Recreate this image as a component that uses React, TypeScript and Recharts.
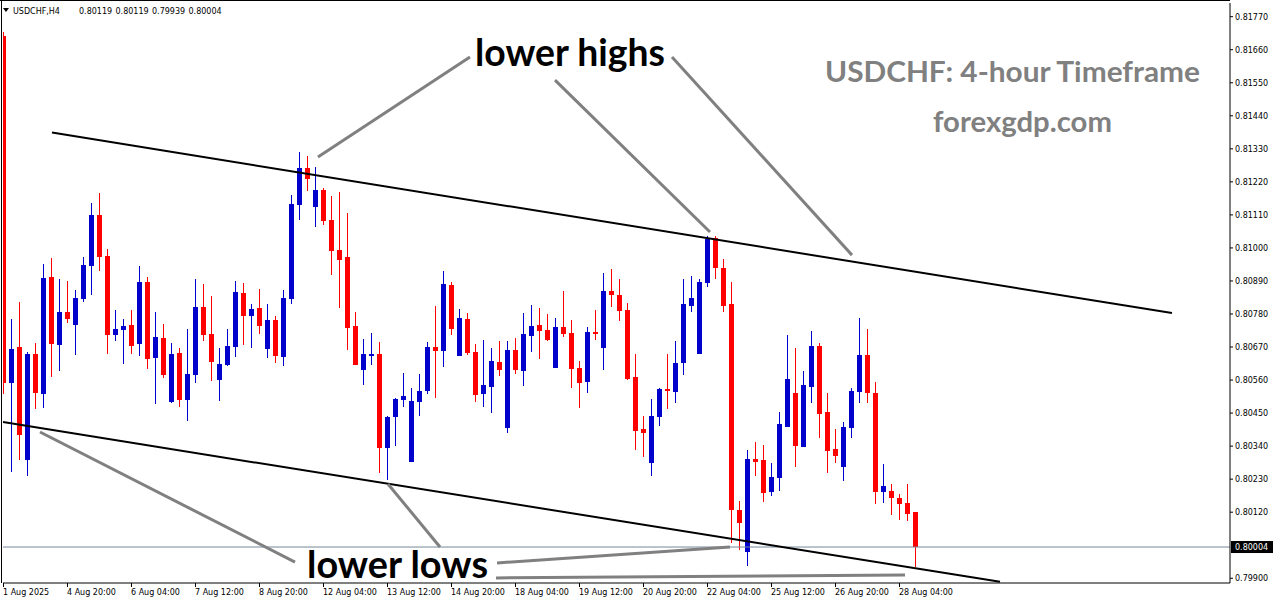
import { ComposedChart, Bar, XAxis, YAxis, ReferenceLine } from 'recharts';

const BULL = '#0000CD';
const BEAR = '#FF0000';
const AXIS_FONT = 'DejaVu Sans';

// USDCHF H4 candles, 1 Aug 12:00 .. 28 Aug 04:00
const OPEN = [
  0.81706, 0.8055, 0.8067, 0.80294, 0.80647, 0.80514, 0.80903, 0.80677, 0.80787, 0.80743,
  0.8083, 0.8094, 0.8111, 0.80973, 0.8071, 0.80727, 0.80743, 0.8068, 0.80887, 0.80633,
  0.807, 0.80487, 0.8065, 0.80494, 0.80577, 0.80803, 0.80713, 0.8056, 0.8061, 0.8067,
  0.8085, 0.80773, 0.808, 0.80663, 0.8076, 0.80637, 0.8083, 0.81143, 0.81266, 0.81136,
  0.81193, 0.81093, 0.80993, 0.8097, 0.8074, 0.80593, 0.8064, 0.80647, 0.80334, 0.80437,
  0.80494, 0.80287, 0.80487, 0.80524, 0.8067, 0.80657, 0.80877, 0.8064, 0.80763, 0.80653,
  0.80514, 0.80537, 0.8062, 0.804, 0.8066, 0.8059, 0.80707, 0.80743, 0.80727, 0.806,
  0.80737, 0.80717, 0.806, 0.80554, 0.8072, 0.80667, 0.80857, 0.80843, 0.80793, 0.8057,
  0.80397, 0.80284, 0.80437, 0.8053, 0.8052, 0.80617, 0.80807, 0.80647, 0.80883, 0.81033,
  0.80933, 0.80813, 0.80127, 0.79987, 0.80297, 0.80294, 0.80187, 0.80234, 0.80404, 0.80517,
  0.80337, 0.80537, 0.80673, 0.80454, 0.8033, 0.8027, 0.804, 0.8052, 0.80643, 0.80517,
  0.80187, 0.80191, 0.80167, 0.80151, 0.80119,
];
const HIGH = [
  0.81719, 0.80763, 0.8082, 0.80653, 0.80683, 0.80946, 0.80966, 0.80897, 0.8089, 0.8086,
  0.8097, 0.8115, 0.81183, 0.80996, 0.80793, 0.80763, 0.80793, 0.8094, 0.80903, 0.80787,
  0.80747, 0.80683, 0.80667, 0.8073, 0.80897, 0.8088, 0.8084, 0.80667, 0.8073, 0.8089,
  0.80883, 0.80813, 0.80863, 0.80813, 0.80773, 0.8086, 0.81176, 0.81319, 0.81306, 0.8127,
  0.812, 0.81173, 0.81186, 0.81116, 0.80787, 0.80697, 0.80717, 0.80687, 0.8044, 0.805,
  0.80583, 0.80534, 0.8058, 0.80687, 0.80807, 0.80923, 0.80887, 0.80797, 0.80783, 0.8068,
  0.80693, 0.80667, 0.8069, 0.8069, 0.807, 0.80783, 0.8081, 0.808, 0.8078, 0.80767,
  0.80857, 0.8076, 0.80623, 0.80737, 0.80793, 0.80917, 0.8093, 0.80897, 0.80817, 0.80647,
  0.8044, 0.80497, 0.80534, 0.80647, 0.8069, 0.80897, 0.80906, 0.80897, 0.8104, 0.8104,
  0.80963, 0.80887, 0.80157, 0.80327, 0.80354, 0.80344, 0.80284, 0.80454, 0.8071, 0.80667,
  0.8059, 0.80723, 0.80683, 0.80517, 0.80397, 0.8042, 0.80534, 0.80767, 0.8073, 0.80554,
  0.8028, 0.80214, 0.80181, 0.80214, 0.80119,
];
const LOW = [
  0.80514, 0.80254, 0.80294, 0.8024, 0.80464, 0.80467, 0.8057, 0.8059, 0.8075, 0.80643,
  0.8082, 0.80843, 0.80923, 0.80647, 0.8069, 0.80613, 0.80647, 0.8064, 0.80597, 0.8048,
  0.80567, 0.80484, 0.8047, 0.80424, 0.8055, 0.8069, 0.80557, 0.8049, 0.80607, 0.80637,
  0.80677, 0.80667, 0.80713, 0.80633, 0.80617, 0.80607, 0.80813, 0.81093, 0.8119, 0.8107,
  0.81076, 0.8091, 0.808, 0.8066, 0.8061, 0.80544, 0.8061, 0.8025, 0.80227, 0.8034,
  0.8047, 0.80287, 0.8044, 0.80514, 0.805, 0.80603, 0.8071, 0.8064, 0.80643, 0.80487,
  0.8047, 0.8045, 0.80574, 0.80384, 0.8058, 0.8054, 0.80653, 0.8063, 0.8069, 0.806,
  0.80703, 0.80534, 0.80467, 0.80517, 0.80693, 0.80593, 0.80803, 0.80757, 0.8056, 0.80327,
  0.80304, 0.8024, 0.80407, 0.80464, 0.80484, 0.80577, 0.80787, 0.80647, 0.8087, 0.80897,
  0.80787, 0.80017, 0.79994, 0.79941, 0.8024, 0.80154, 0.80174, 0.80191, 0.80404, 0.8027,
  0.80337, 0.80484, 0.80367, 0.8025, 0.80284, 0.80224, 0.80367, 0.80484, 0.80484, 0.80147,
  0.80151, 0.80111, 0.80094, 0.80091, 0.79939,
];
const CLOSE = [
  0.8055, 0.80663, 0.80377, 0.80647, 0.80517, 0.809, 0.8068, 0.80787, 0.80763, 0.80833,
  0.80943, 0.8111, 0.8097, 0.8071, 0.8073, 0.8074, 0.80673, 0.80887, 0.8063, 0.80703,
  0.80577, 0.80647, 0.80494, 0.8058, 0.80803, 0.8071, 0.8062, 0.80613, 0.80673, 0.80853,
  0.80773, 0.80797, 0.8074, 0.8076, 0.8064, 0.80833, 0.81146, 0.81266, 0.8123, 0.81193,
  0.8109, 0.8099, 0.8096, 0.80733, 0.8061, 0.80647, 0.80647, 0.80334, 0.80437, 0.80497,
  0.80507, 0.8049, 0.80524, 0.8067, 0.80657, 0.8088, 0.8073, 0.80767, 0.8065, 0.8051,
  0.80544, 0.80623, 0.80593, 0.8066, 0.80593, 0.80713, 0.8074, 0.80723, 0.80693, 0.80737,
  0.80713, 0.80597, 0.8055, 0.8072, 0.80713, 0.80857, 0.80843, 0.8079, 0.80563, 0.8039,
  0.80384, 0.8044, 0.8053, 0.80524, 0.80617, 0.80813, 0.80833, 0.80887, 0.8103, 0.80933,
  0.80807, 0.80127, 0.80084, 0.80297, 0.80287, 0.80184, 0.80237, 0.80414, 0.80563, 0.8034,
  0.80544, 0.80673, 0.80447, 0.80324, 0.80307, 0.80404, 0.80524, 0.80643, 0.80517, 0.80187,
  0.80207, 0.80167, 0.80147, 0.80114, 0.80004,
];

const X_TICKS = [0, 8, 16, 24, 32, 40, 48, 56, 64, 72, 80, 88, 96, 104, 112];
const X_TICK_LABELS = [
  '1 Aug 2025', '4 Aug 20:00', '6 Aug 04:00', '7 Aug 12:00', '8 Aug 20:00',
  '12 Aug 04:00', '13 Aug 12:00', '14 Aug 20:00', '18 Aug 04:00', '19 Aug 12:00',
  '20 Aug 20:00', '22 Aug 04:00', '25 Aug 12:00', '26 Aug 20:00', '28 Aug 04:00',
];
const Y_TICKS = [
  0.799, 0.8012, 0.8023, 0.8034, 0.8045, 0.8056, 0.8067, 0.8078, 0.8089,
  0.81, 0.8111, 0.8122, 0.8133, 0.8144, 0.8155, 0.8166, 0.8177,
];
const LAST_PRICE = 0.80004;
const HEADER_VALUES = ['0.80119', '0.80119', '0.79939', '0.80004'];

// channel lines: [bar index, price]
const CHANNEL_LINES = [
  [[6.06, 0.81384], [146.06, 0.80783]],
  [[-0.06, 0.8042], [124.56, 0.79888]],
];
// grey pointer lines from the labels
const POINTER_LINES = [
  [[39.31, 0.81303], [58.31, 0.81636]],
  [[68.94, 0.81559], [88.31, 0.81053]],
  [[83.56, 0.81636], [106.06, 0.80976]],
  [[4.56, 0.80387], [36.44, 0.79954]],
  [[48.06, 0.80214], [54.56, 0.80004]],
  [[61.69, 0.79951], [90.81, 0.80004]],
  [[61.56, 0.79901], [112.69, 0.79911]],
];

const data = OPEN.map((open, i) => ({
  i,
  open,
  close: CLOSE[i],
  high: HIGH[i],
  low: LOW[i],
  range: [LOW[i], HIGH[i]],
}));

function Candle(props: any) {
  const { x, y, width, height, payload } = props;
  if (!payload || y == null || height == null) return null;
  const top = Math.min(y, y + height);
  const h = Math.abs(height);
  const { open, close, high, low } = payload;
  const toY = (v: number) => (high === low ? top : top + ((high - v) / (high - low)) * h);
  const color = close >= open ? BULL : BEAR;
  const cx = x + width / 2;
  const bodyTop = toY(Math.max(open, close));
  const bodyBottom = toY(Math.min(open, close));
  return (
    <g>
      <line x1={cx} x2={cx} y1={top} y2={top + h} stroke={color} strokeWidth={1} shapeRendering="crispEdges" />
      <rect
        x={cx - 2.5}
        y={bodyTop}
        width={5}
        height={Math.max(1, bodyBottom - bodyTop)}
        fill={color}
        shapeRendering="crispEdges"
      />
    </g>
  );
}

function XTick(props: any) {
  const { x, y, payload } = props;
  const label = X_TICK_LABELS[X_TICKS.indexOf(payload.value)];
  if (!label) return null;
  return (
    <text x={x - 0.5} y={y} dy={6} textAnchor="start" fontSize={8} fontFamily={AXIS_FONT} fill="#000">
      {label}
    </text>
  );
}

function PriceTag(props: any) {
  const vb = props.viewBox;
  if (!vb) return null;
  const x = vb.x + vb.width + 1;
  return (
    <g>
      <rect x={x} y={vb.y - 6} width={42} height={12} fill="#000" />
      <text x={x + 4} y={vb.y} dy={3} fontSize={8} fontFamily={AXIS_FONT} fill="#fff">
        {LAST_PRICE.toFixed(5)}
      </text>
    </g>
  );
}

export default function App() {
  return (
    <div style={{ position: 'absolute', left: 0, top: 0, width: 1276, height: 604, background: '#fff' }}>
      <ComposedChart
        width={1276}
        height={604}
        data={data}
        margin={{ top: 3, right: 0, left: 3, bottom: 0 }}
      >
        <XAxis
          dataKey="i"
          type="number"
          domain={[-0.0625, 153.3125]}
          allowDataOverflow
          ticks={X_TICKS}
          interval={0}
          height={21}
          tickSize={4}
          tickMargin={2}
          tick={<XTick />}
          axisLine={{ stroke: '#000' }}
          tickLine={{ stroke: '#000' }}
        />
        <YAxis
          orientation="right"
          type="number"
          domain={[0.798842, 0.818156]}
          allowDataOverflow
          ticks={Y_TICKS}
          interval={0}
          width={46}
          tickSize={3}
          tickMargin={2}
          tickFormatter={(v: number) => v.toFixed(5)}
          tick={{ fontSize: 8, fill: '#000', fontFamily: AXIS_FONT }}
          axisLine={{ stroke: '#000' }}
          tickLine={{ stroke: '#000' }}
        />
        <ReferenceLine y={LAST_PRICE} stroke="#778899" strokeWidth={1} label={<PriceTag />} />
        <Bar dataKey="range" barSize={5} shape={<Candle />} isAnimationActive={false} />
        {CHANNEL_LINES.map((seg, k) => (
          <ReferenceLine
            key={'c' + k}
            segment={[{ x: seg[0][0], y: seg[0][1] }, { x: seg[1][0], y: seg[1][1] }]}
            stroke="#000"
            strokeWidth={2}
            ifOverflow="visible"
          />
        ))}
        {POINTER_LINES.map((seg, k) => (
          <ReferenceLine
            key={'p' + k}
            segment={[{ x: seg[0][0], y: seg[0][1] }, { x: seg[1][0], y: seg[1][1] }]}
            stroke="#808080"
            strokeWidth={3}
            ifOverflow="visible"
          />
        ))}
      </ComposedChart>
      <svg
        width={1276}
        height={604}
        style={{ position: 'absolute', left: 0, top: 0, pointerEvents: 'none' }}
      >
        <line x1={0} x2={1230} y1={0.5} y2={0.5} stroke="#000" />
        <line x1={1.5} x2={1.5} y1={0} y2={583} stroke="#000" />
        <polygon points="3,8 9,8 6,12" fill="#000" />
        <text x={13} y={14} fontSize={8} fontFamily={AXIS_FONT} fill="#000">USDCHF,H4</text>
        {HEADER_VALUES.map((v, k) => (
          <text key={k} x={79 + k * 36.5} y={14} fontSize={8} fontFamily={AXIS_FONT} fill="#000">
            {v}
          </text>
        ))}
        <text x={475} y={66} fontSize={38} fontWeight={700} fontFamily="Lato" fill="#000" textLength={190} lengthAdjust="spacingAndGlyphs">
          lower highs
        </text>
        <text x={307} y={578} fontSize={38} fontWeight={700} fontFamily="Lato" fill="#000" textLength={181} lengthAdjust="spacingAndGlyphs">
          lower lows
        </text>
        <text x={825} y={82} fontSize={29} fontWeight={700} fontFamily="Lato" fill="#808080" textLength={375} lengthAdjust="spacingAndGlyphs">
          USDCHF: 4-hour Timeframe
        </text>
        <text x={933} y={132} fontSize={29} fontWeight={700} fontFamily="Lato" fill="#808080" textLength={179} lengthAdjust="spacingAndGlyphs">
          forexgdp.com
        </text>
      </svg>
    </div>
  );
}
